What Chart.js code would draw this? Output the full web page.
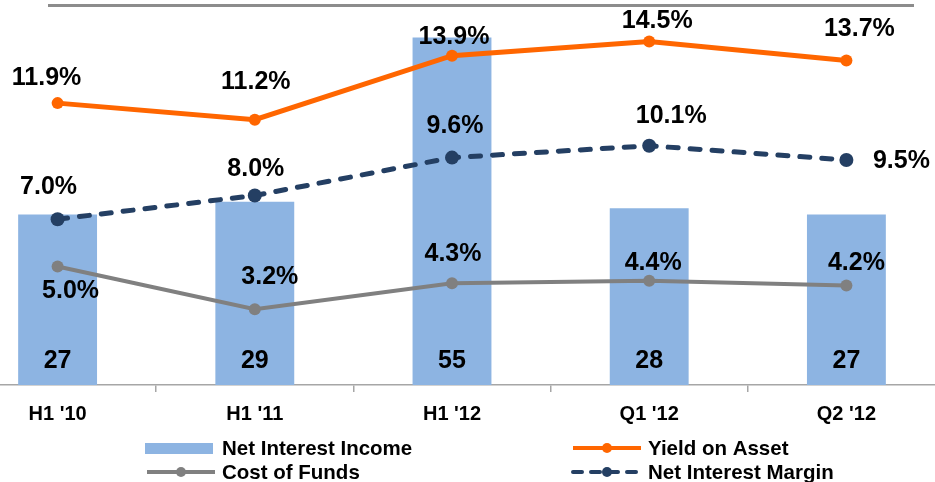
<!DOCTYPE html>
<html>
<head>
<meta charset="utf-8">
<script src="https://cdn.jsdelivr.net/npm/chart.js@4.4.1/dist/chart.umd.min.js"></script>
<style>
    html, body { margin: 0; padding: 0; background: #fff; width: 935px; height: 482px; overflow: hidden; position: relative; }
    #titleRule { position: absolute; left: 48px; top: 4px; width: 866px; height: 3px; background: #8c8c8c; }
    #nimChart { position: absolute; left: -41px; top: 0; }
</style>
</head>
<body>
<div id="titleRule"></div>
<canvas id="nimChart" width="986" height="482"></canvas>
<script>
const periods = ["H1 '10", "H1 '11", "H1 '12", "Q1 '12", "Q2 '12"];
const netInterestIncome = [27, 29, 55, 28, 27];
const yieldOnAsset = [11.9, 11.2, 13.9, 14.5, 13.7];
const costOfFunds = [5.0, 3.2, 4.3, 4.4, 4.2];
const netInterestMargin = [7.0, 8.0, 9.6, 10.1, 9.5];

// where each value label sits relative to its point (px)
const yieldShift = [[-11, -25], [1, -38], [2, -19], [8, -20], [13, -31]];
const costShift = [[13, 25], [15, -32], [1, -29], [4, -18], [10, -22]];
const marginShift = [[-9, -32], [1, -26], [3, -31], [22, -30], [55, 1]];

const PAGE_SHIFT = 41; // canvas starts 41px left of the page
const FONT = "'Liberation Sans', Arial, sans-serif";

const valueLabels = {
    id: "valueLabels",
    afterDatasetsDraw(chart) {
        const ctx = chart.ctx;
        ctx.save();
        ctx.fillStyle = "#000";
        ctx.textAlign = "center";
        ctx.textBaseline = "middle";
        ctx.font = "bold 25px " + FONT;
        chart.data.datasets.forEach(function (ds, i) {
            const meta = chart.getDatasetMeta(i);
            meta.data.forEach(function (el, j) {
                const v = ds.data[j];
                if (ds.type === "bar") {
                    ctx.fillText(String(v), el.x, el.base - 24);
                } else {
                    const s = ds.labelShift[j];
                    ctx.fillText(v.toFixed(1) + "%", el.x + s[0], el.y + s[1]);
                }
            });
        });
        ctx.restore();
    },
};

// two-column legend under the axis
const legendSlots = [
    { x: 145, y: 448 },
    { x: 571, y: 448 },
    { x: 145, y: 472 },
    { x: 571, y: 472 },
];

const boxLegend = {
    id: "boxLegend",
    afterDraw(chart) {
        const ctx = chart.ctx;
        ctx.save();
        chart.data.datasets.forEach(function (ds) {
            const slot = legendSlots[ds.legendSlot];
            const x = slot.x + PAGE_SHIFT;
            const y = slot.y;
            if (ds.type === "bar") {
                ctx.fillStyle = ds.backgroundColor;
                ctx.fillRect(x, y - 5, 68, 11);
            } else {
                ctx.strokeStyle = ds.borderColor;
                ctx.lineWidth = 4;
                ctx.lineCap = ds.borderDash ? "round" : "butt";
                ctx.setLineDash(ds.borderDash ? [9, 9] : []);
                ctx.beginPath();
                ctx.moveTo(x + 2, y);
                ctx.lineTo(x + 70, y);
                ctx.stroke();
                ctx.setLineDash([]);
                ctx.fillStyle = ds.borderColor;
                ctx.beginPath();
                ctx.arc(x + 36, y, 5, 0, Math.PI * 2);
                ctx.fill();
            }
            ctx.fillStyle = "#000";
            ctx.font = "bold 20.5px " + FONT;
            ctx.textAlign = "left";
            ctx.textBaseline = "middle";
            ctx.fillText(ds.label, x + 77, y + 1);
        });
        ctx.restore();
    },
};

document.addEventListener("DOMContentLoaded", function () {
    const chartElement = document.getElementById("nimChart");

    new Chart(chartElement, {
        data: {
            labels: periods,

            datasets: [
                {
                    type: "bar",
                    label: "Net Interest Income",
                    data: netInterestIncome,
                    backgroundColor: "#8DB4E2",
                    barPercentage: 0.4,
                    categoryPercentage: 1,
                    yAxisID: "y",
                    order: 4,
                    legendSlot: 0,
                },
                {
                    type: "line",
                    label: "Yield on Asset",
                    data: yieldOnAsset,
                    borderColor: "#FF6600",
                    backgroundColor: "#FF6600",
                    borderWidth: 5,
                    pointRadius: 6,
                    pointBorderWidth: 0,
                    yAxisID: "y2",
                    order: 1,
                    legendSlot: 1,
                    labelShift: yieldShift,
                },
                {
                    type: "line",
                    label: "Cost of Funds",
                    data: costOfFunds,
                    borderColor: "#808080",
                    backgroundColor: "#808080",
                    borderWidth: 4,
                    pointRadius: 6,
                    pointBorderWidth: 0,
                    yAxisID: "y2",
                    order: 2,
                    legendSlot: 2,
                    labelShift: costShift,
                },
                {
                    type: "line",
                    label: "Net Interest Margin",
                    data: netInterestMargin,
                    borderColor: "#243F63",
                    backgroundColor: "#243F63",
                    borderWidth: 5,
                    borderDash: [10, 12],
                    borderCapStyle: "round",
                    pointRadius: 7,
                    pointBorderWidth: 0,
                    yAxisID: "y2",
                    order: 3,
                    legendSlot: 3,
                    labelShift: marginShift,
                },
            ],
        },

        options: {
            responsive: false,
            animation: false,

            layout: {
                autoPadding: false,
                padding: { top: 6, bottom: 46, left: 0, right: 0 },
            },

            plugins: {
                legend: { display: false },
                tooltip: { enabled: false },
            },

            scales: {
                x: {
                    grid: {
                        display: true,
                        drawOnChartArea: false,
                        drawTicks: true,
                        tickLength: 7,
                        color: "#A6A6A6",
                        lineWidth: 1.5,
                        offset: true,
                    },
                    border: { display: true, color: "#A6A6A6", width: 1.5 },
                    ticks: {
                        color: "#000",
                        padding: 10,
                        font: { family: FONT, size: 20, weight: "bold" },
                    },
                },
                y: {
                    display: false,
                    min: 0,
                    max: 60,
                },
                y2: {
                    display: false,
                    min: 0,
                    max: 16,
                },
            },
        },

        plugins: [valueLabels, boxLegend],
    });
});
</script>
</body>
</html>
